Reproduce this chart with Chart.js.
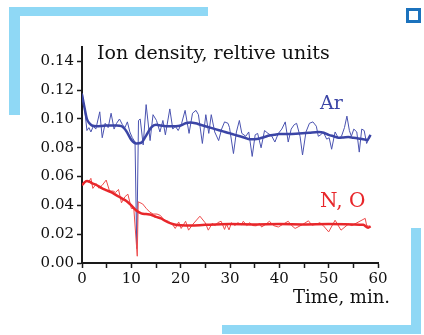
<!DOCTYPE html>
<html>
<head>
<meta charset="utf-8">
<script src="https://cdn.jsdelivr.net/npm/chart.js@4.4.1/dist/chart.umd.min.js"></script>
<style>
  html, body { margin:0; padding:0; background:#fff; }
  #wrap { position:relative; width:424px; height:335px; overflow:hidden; }
  #wrap canvas { position:absolute; left:0; top:0; }
  .bar { position:absolute; background:#8fd8f5; }
  .txt { position:absolute; font-family:"DejaVu Serif", serif; white-space:nowrap; line-height:22px; }
  #icon { position:absolute; left:406px; top:8px; width:9px; height:9px; border:3px solid #1b72bd; }
</style>
</head>
<body>
<div id="wrap">
  <div class="bar" style="left:9px;top:7px;width:199px;height:9px;"></div>
  <div class="bar" style="left:9px;top:7px;width:11px;height:108px;"></div>
  <div class="bar" style="left:222px;top:325px;width:199px;height:9px;"></div>
  <div class="bar" style="left:411px;top:228px;width:10px;height:106px;"></div>
  <div id="icon"></div>
  <canvas id="c" width="424" height="335"></canvas>
  <div class="txt" style="left:97px;top:41px;font-size:19px;color:#111;">Ion density, reltive units</div>
  <div class="txt" style="right:34px;top:286px;font-size:18px;color:#111;">Time, min.</div>
  <div class="txt" style="left:320px;top:91px;font-size:19px;color:#3b45a6;">Ar</div>
  <div class="txt" style="left:320px;top:189px;font-size:20px;color:#e8262a;">N, O</div>
</div>
<script>
// ---- data ----
const arRawTime = [0,0.5,1.0,1.4,1.8,2.3,2.8,3.6,4.1,4.7,5.3,5.9,6.5,7.0,7.6,8.2,8.7,9.2,9.7,10.2,10.75,11.1,11.45,11.8,12.4,13.0,13.8,14.4,15.1,15.8,16.4,16.9,17.8,18.4,18.9,19.5,20.2,20.9,21.7,22.4,23.1,23.6,24.4,25.1,25.7,26.2,26.9,27.7,28.3,28.9,29.6,29.9,30.7,31.3,31.9,32.4,33.2,33.8,34.5,35.1,35.6,36.3,37.0,37.7,38.4,39.1,39.8,40.5,41.2,41.8,42.4,43.0,43.5,44.2,44.7,45.4,46.1,46.8,47.5,47.9,48.4,48.9,49.6,50.1,50.6,51.3,52.0,52.6,53.2,53.7,54.2,54.6,55.1,55.7,56.2,56.7,57.2,57.7,58.4];
const arRaw = [0.118,0.108,0.092,0.094,0.091,0.095,0.093,0.105,0.087,0.097,0.094,0.104,0.093,0.097,0.100,0.096,0.094,0.098,0.091,0.087,0.084,0.010,0.099,0.100,0.082,0.110,0.085,0.103,0.099,0.091,0.099,0.089,0.107,0.093,0.095,0.092,0.097,0.106,0.090,0.104,0.106,0.103,0.083,0.103,0.090,0.103,0.091,0.085,0.093,0.098,0.097,0.094,0.076,0.091,0.099,0.090,0.088,0.091,0.074,0.089,0.090,0.080,0.092,0.090,0.0885,0.084,0.090,0.093,0.098,0.084,0.093,0.096,0.097,0.088,0.075,0.091,0.097,0.098,0.095,0.088,0.089,0.091,0.086,0.087,0.079,0.091,0.0865,0.088,0.094,0.102,0.092,0.088,0.093,0.091,0.077,0.093,0.092,0.083,0.088];

const arSmoothTime = [0,0.5,1,1.5,2,3,4,5,6,7,8,9,10,11,12,13,14,15,16,17,18,19,20,21,22,23,24,25,26,27,28,29,30,31,32,33,34,35,36,37,38,39,40,42,44,46,48,49,50,51,52,53,54,55,56,57,57.8,58.5];
const arSmooth = [0.117,0.108,0.100,0.097,0.0955,0.095,0.0952,0.0955,0.0955,0.0955,0.095,0.0915,0.0855,0.083,0.0835,0.0885,0.094,0.096,0.0955,0.095,0.095,0.095,0.0955,0.097,0.0975,0.097,0.096,0.095,0.094,0.093,0.092,0.091,0.090,0.089,0.088,0.087,0.086,0.086,0.0865,0.0875,0.0885,0.089,0.0895,0.0895,0.090,0.0905,0.091,0.0905,0.089,0.088,0.087,0.0872,0.0875,0.087,0.0865,0.086,0.0855,0.089];

const noRawTime = [0,0.9,1.3,1.8,2.2,2.9,3.4,4.1,4.9,5.6,6.3,6.8,7.4,8.0,8.7,9.3,10.0,10.5,11.2,11.4,12.3,13.0,13.7,14.4,15.2,15.9,16.6,17.5,18.3,18.9,19.6,20.1,21.0,21.6,22.5,23.9,25.0,25.6,26.4,27.0,27.5,28.2,28.9,29.3,29.8,30.3,31.0,31.6,32.3,32.7,33.4,34.0,34.6,35.3,36.0,36.4,37.3,38.0,38.8,39.8,40.8,41.8,42.5,43.2,44.6,45.9,46.6,47.6,48.2,48.9,50.0,51.3,52.5,54.0,54.7,57.4,57.7,58.4];
const noRaw = [0.054,0.0576,0.056,0.0588,0.0518,0.055,0.052,0.054,0.0576,0.0498,0.050,0.049,0.0511,0.0418,0.046,0.0478,0.0379,0.038,0.0047,0.0425,0.041,0.038,0.0355,0.034,0.034,0.033,0.030,0.029,0.027,0.024,0.0285,0.024,0.029,0.0228,0.027,0.0325,0.0278,0.0228,0.0275,0.026,0.028,0.029,0.0233,0.027,0.023,0.028,0.026,0.028,0.0265,0.029,0.026,0.028,0.026,0.0258,0.0275,0.025,0.027,0.029,0.026,0.025,0.027,0.029,0.026,0.024,0.0265,0.0293,0.0263,0.027,0.028,0.026,0.0216,0.0297,0.0228,0.027,0.026,0.031,0.026,0.0253];

const noSmoothTime = [0,0.5,1,1.5,2,3,4,5,6,7,8,9,10,11,12,13,14,15,16,17,18,19,20,22,25,30,35,40,45,50,55,57,58,58.5];
const noSmooth = [0.054,0.056,0.057,0.0565,0.0555,0.054,0.052,0.0505,0.049,0.047,0.045,0.043,0.040,0.0365,0.0345,0.034,0.0335,0.032,0.031,0.029,0.0275,0.0265,0.0262,0.026,0.0265,0.027,0.0268,0.027,0.0268,0.027,0.0268,0.0265,0.0245,0.0255];

const xTicks = [0,10,20,30,40,50,60];
const yTicks = [0.00,0.02,0.04,0.06,0.08,0.10,0.12,0.14];

const pts = (t, v) => t.map((x, i) => ({x: x, y: v[i]}));
const BLUE = '#3b45a6', RED = '#e8262a', AX = '#1a1a1a';
const FONT = {family: '"DejaVu Serif", serif', size: 15};

new Chart(document.getElementById('c'), {
  type: 'line',
  data: {
    datasets: [
      {label:'N, O raw', data: pts(noRawTime, noRaw), borderColor: '#ee4a4a', borderWidth: 1, tension: 0, pointRadius: 0, order: 1},
      {label:'N, O', data: pts(noSmoothTime, noSmooth), borderColor: RED, borderWidth: 2.5, cubicInterpolationMode: 'monotone', pointRadius: 0, order: 0},
      {label:'Ar raw', data: pts(arRawTime, arRaw), borderColor: '#4a53b0', borderWidth: 1, tension: 0, pointRadius: 0, order: 3},
      {label:'Ar', data: pts(arSmoothTime, arSmooth), borderColor: BLUE, borderWidth: 2.5, cubicInterpolationMode: 'monotone', pointRadius: 0, order: 2}
    ]
  },
  options: {
    responsive: false,
    animation: false,
    layout: {padding: {left: 0, top: 47, right: 46, bottom: 0}},
    plugins: {legend: {display: false}, tooltip: {enabled: false}},
    scales: {
      x: {
        type: 'linear', min: 0, max: 60,
        afterFit: s => { s.height = 72; },
        border: {display: true, color: AX, width: 2},
        grid: {drawOnChartArea: false, drawTicks: true, tickLength: 5, color: AX, tickWidth: 1.5},
        ticks: {stepSize: 5, color: '#111', font: FONT, padding: 2, maxRotation: 0,
          callback: v => xTicks.includes(v) ? String(v) : ''}
      },
      y: {
        min: 0, max: 0.15,
        afterFit: s => { s.width = 82; },
        border: {display: true, color: AX, width: 2},
        grid: {drawOnChartArea: false, drawTicks: true, tickLength: 5, color: AX, tickWidth: 1.5},
        ticks: {stepSize: 0.01, color: '#111', font: FONT, padding: 3,
          callback: v => {
            const r = Math.round(v * 100) / 100;
            return yTicks.some(t => Math.abs(t - r) < 1e-9) ? r.toFixed(2) : '';
          }}
      }
    }
  }
});
</script>
</body>
</html>
